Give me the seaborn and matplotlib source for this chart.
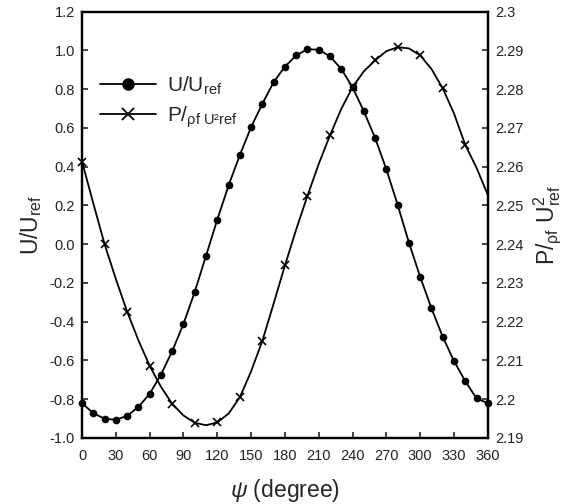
import numpy as np
import pandas as pd
import matplotlib
matplotlib.use('Agg')
import matplotlib.pyplot as plt
import seaborn as sns
from matplotlib.lines import Line2D
from matplotlib.ticker import FixedLocator

# data
psi = [0, 10, 20, 30, 40, 50, 60, 70, 80, 90, 100, 110, 120, 130, 140, 150, 160, 170, 180,
       190, 200, 210, 220, 230, 240, 250, 260, 270, 280, 290, 300, 310, 320, 330, 340, 350, 360]

u_ratio = [-0.821, -0.872, -0.901, -0.906, -0.886, -0.840, -0.772, -0.673, -0.552, -0.411,
           -0.246, -0.060, 0.127, 0.303, 0.460, 0.604, 0.725, 0.836, 0.916, 0.974, 1.006,
           1.003, 0.969, 0.904, 0.809, 0.686, 0.548, 0.386, 0.203, 0.008, -0.169, -0.331,
           -0.478, -0.603, -0.707, -0.796, -0.820]

p_ratio = [2.2613, 2.2505, 2.2400, 2.2310, 2.2226, 2.2152, 2.2086, 2.2032, 2.1988, 2.1958,
           2.1939, 2.1933, 2.1940, 2.1963, 2.2005, 2.2072, 2.2151, 2.2247, 2.2345, 2.2438,
           2.2525, 2.2607, 2.2681, 2.2749, 2.2805, 2.2846, 2.2874, 2.2898, 2.2908, 2.2905,
           2.2887, 2.2852, 2.2802, 2.2737, 2.2656, 2.2597, 2.2527]

x_ticks = [0, 30, 60, 90, 120, 150, 180, 210, 240, 270, 300, 330, 360]
left_ticks = [-1.0, -0.8, -0.6, -0.4, -0.2, 0.0, 0.2, 0.4, 0.6, 0.8, 1.0, 1.2]
right_ticks = [2.19, 2.2, 2.21, 2.22, 2.23, 2.24, 2.25, 2.26, 2.27, 2.28, 2.29, 2.3]
right_labels = ['2.19', '2.2', '2.21', '2.22', '2.23', '2.24', '2.25', '2.26', '2.27', '2.28', '2.29', '2.3']

df = pd.DataFrame({'psi': psi, 'U': u_ratio, 'P': p_ratio})

sns.set_style('ticks')
plt.rcParams['font.family'] = ['Liberation Sans', 'DejaVu Sans']
plt.rcParams['mathtext.fontset'] = 'custom'
plt.rcParams['mathtext.rm'] = 'Liberation Sans'
plt.rcParams['mathtext.it'] = 'Liberation Sans:italic'
plt.rcParams['mathtext.bf'] = 'Liberation Sans:bold'

fig = plt.figure(figsize=(5.62, 5.04), dpi=100)
ax = fig.add_axes([0.146, 0.131, 0.722, 0.846])
ax2 = ax.twinx()

sns.lineplot(data=df, x='psi', y='U', ax=ax, color='black', lw=1.3,
             marker='o', markersize=5.5, markeredgewidth=0, clip_on=False)
# crosses every 20 degrees, none on the right spine
sns.lineplot(data=df, x='psi', y='P', ax=ax2, color='black', lw=1.3,
             marker='x', markersize=6, markeredgewidth=1.2, markeredgecolor='black',
             markevery=slice(0, 36, 2), clip_on=False)

ax.set_xlim(0, 360)
ax.set_ylim(-1.0, 1.2)
ax2.set_ylim(2.19, 2.3)
ax.xaxis.set_major_locator(FixedLocator(x_ticks))
ax.yaxis.set_major_locator(FixedLocator(left_ticks))
ax.set_yticklabels([f'{v:.1f}' for v in left_ticks])
ax2.yaxis.set_major_locator(FixedLocator(right_ticks))
ax2.set_yticklabels(right_labels)

for a in (ax, ax2):
    for s in a.spines.values():
        s.set_visible(True)
        s.set_linewidth(1.6)
        s.set_color('black')
    a.tick_params(direction='in', length=4, width=1.2, labelsize=10.5,
                  labelcolor='#222222', pad=5)
ax.tick_params(axis='x', pad=8)

ax.set_xlabel(r'$\psi$ (degree)', fontsize=16.5, labelpad=10)
ax.set_ylabel(r'U/U$_{\mathregular{ref}}$', fontsize=16.5, labelpad=4)
ax2.set_ylabel(r'P/$_{\mathregular{\rho f}}$ U$^{\mathregular{2}}_{\mathregular{ref}}$',
               fontsize=16.5, labelpad=6)

handles = [
    Line2D([], [], color='black', lw=1.3, marker='o', markersize=9, markeredgewidth=0),
    Line2D([], [], color='black', lw=1.3, marker='x', markersize=9, markeredgewidth=1.3),
]
labels = [r'U/U$_{\mathregular{ref}}$', r'P/$_{\mathregular{\rho f\ U²ref}}$']
ax.legend(handles, labels, loc='upper left', bbox_to_anchor=(0.044, 0.852),
          frameon=False, fontsize=15, handlelength=2.7, handletextpad=0.5,
          borderpad=0, borderaxespad=0, labelspacing=0.35)

fig.savefig('out.png', dpi=100)
